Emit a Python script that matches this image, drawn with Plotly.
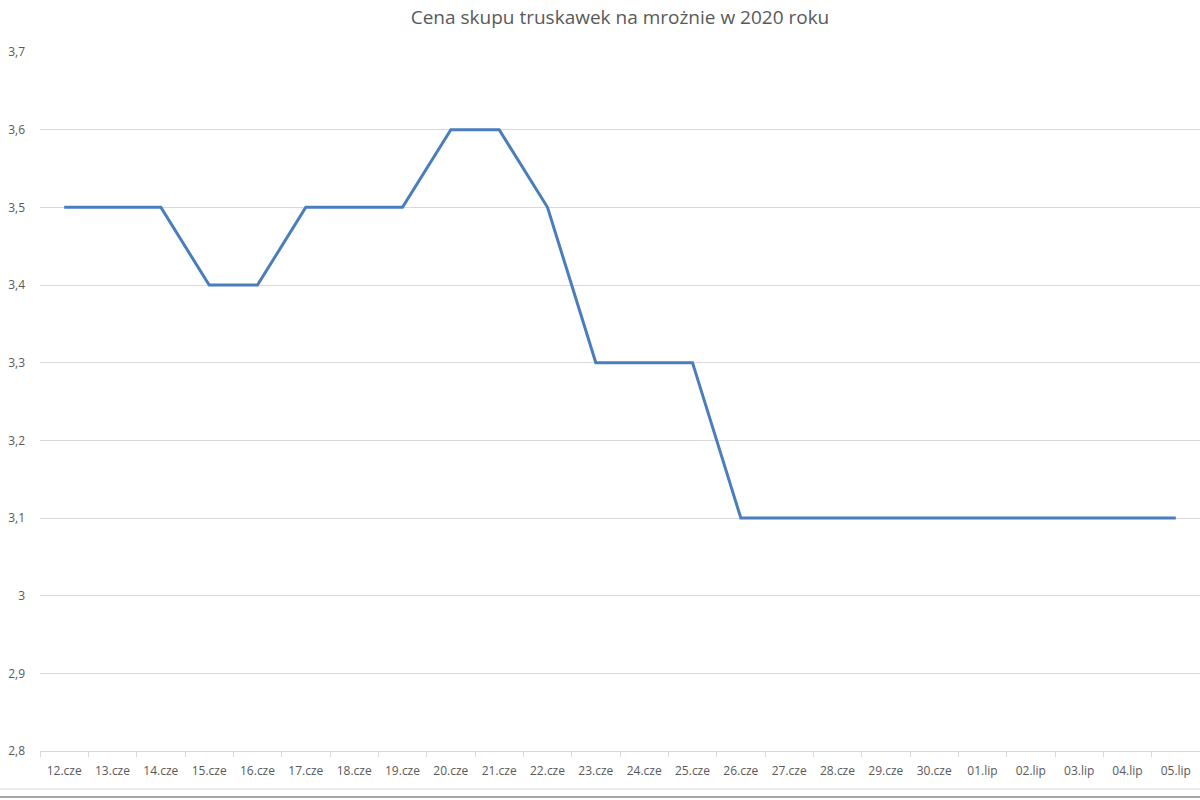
import plotly.graph_objects as go

dates = ["12.cze", "13.cze", "14.cze", "15.cze", "16.cze", "17.cze", "18.cze", "19.cze",
         "20.cze", "21.cze", "22.cze", "23.cze", "24.cze", "25.cze", "26.cze", "27.cze",
         "28.cze", "29.cze", "30.cze", "01.lip", "02.lip", "03.lip", "04.lip", "05.lip"]
prices = [3.5, 3.5, 3.5, 3.4, 3.4, 3.5, 3.5, 3.5,
          3.6, 3.6, 3.5, 3.3, 3.3, 3.3, 3.1, 3.1,
          3.1, 3.1, 3.1, 3.1, 3.1, 3.1, 3.1, 3.1]
y_tick_vals = [2.8, 2.9, 3.0, 3.1, 3.2, 3.3, 3.4, 3.5, 3.6, 3.7]
y_tick_text = ["2,8", "2,9", "3", "3,1", "3,2", "3,3", "3,4", "3,5", "3,6", "3,7"]

title = "Cena skupu truskawek na mrożnie w 2020 roku"

fig = go.Figure()
fig.add_trace(go.Scatter(
    x=dates, y=prices, mode="lines",
    line=dict(color="#4a7dbb", width=3),
    hoverinfo="x+y",
))

font_family = "Open Sans, Noto Sans, sans-serif"
fig.update_layout(
    width=1200, height=800,
    margin=dict(l=40, r=0, t=52, b=49),
    paper_bgcolor="white", plot_bgcolor="white",
    showlegend=False,
    title=dict(text=title, x=0.5, xref="paper", xanchor="center",
               y=1 - 17 / 800, yref="container", yanchor="middle",
               font=dict(family=font_family, size=19, color="#595959")),
    font=dict(family=font_family, size=12, color="#595959"),
    xaxis=dict(
        type="category", showgrid=False, zeroline=False, automargin=False,
        showline=True, linecolor="#d9d9d9", linewidth=1,
        ticks="outside", tickson="boundaries", ticklen=5, tickcolor="#d9d9d9",
        ticklabelstandoff=9,
        tickfont=dict(size=12, color="#595959"),
        range=[-0.5, len(dates) - 0.5],
    ),
    yaxis=dict(
        range=[2.8, 3.7], tickvals=y_tick_vals, ticktext=y_tick_text,
        showgrid=True, gridcolor="#d9d9d9", gridwidth=1, automargin=False,
        zeroline=False, showline=False, ticks="",
        ticklabelstandoff=14,
        tickfont=dict(size=12, color="#595959"),
    ),
    shapes=[
        dict(type="line", xref="paper", yref="paper", x0=-0.05, x1=1.05,
             y0=-38 / 699, y1=-38 / 699, line=dict(color="#d9d9d9", width=1)),
        dict(type="line", xref="paper", yref="paper", x0=-0.05, x1=1.05,
             y0=-46 / 699, y1=-46 / 699, line=dict(color="#a6a6a6", width=2)),
    ],
)

fig.write_html(
    "out.html",
    config={"displayModeBar": False},
    post_script="document.body.style.margin='0';document.body.style.overflow='hidden';",
)
